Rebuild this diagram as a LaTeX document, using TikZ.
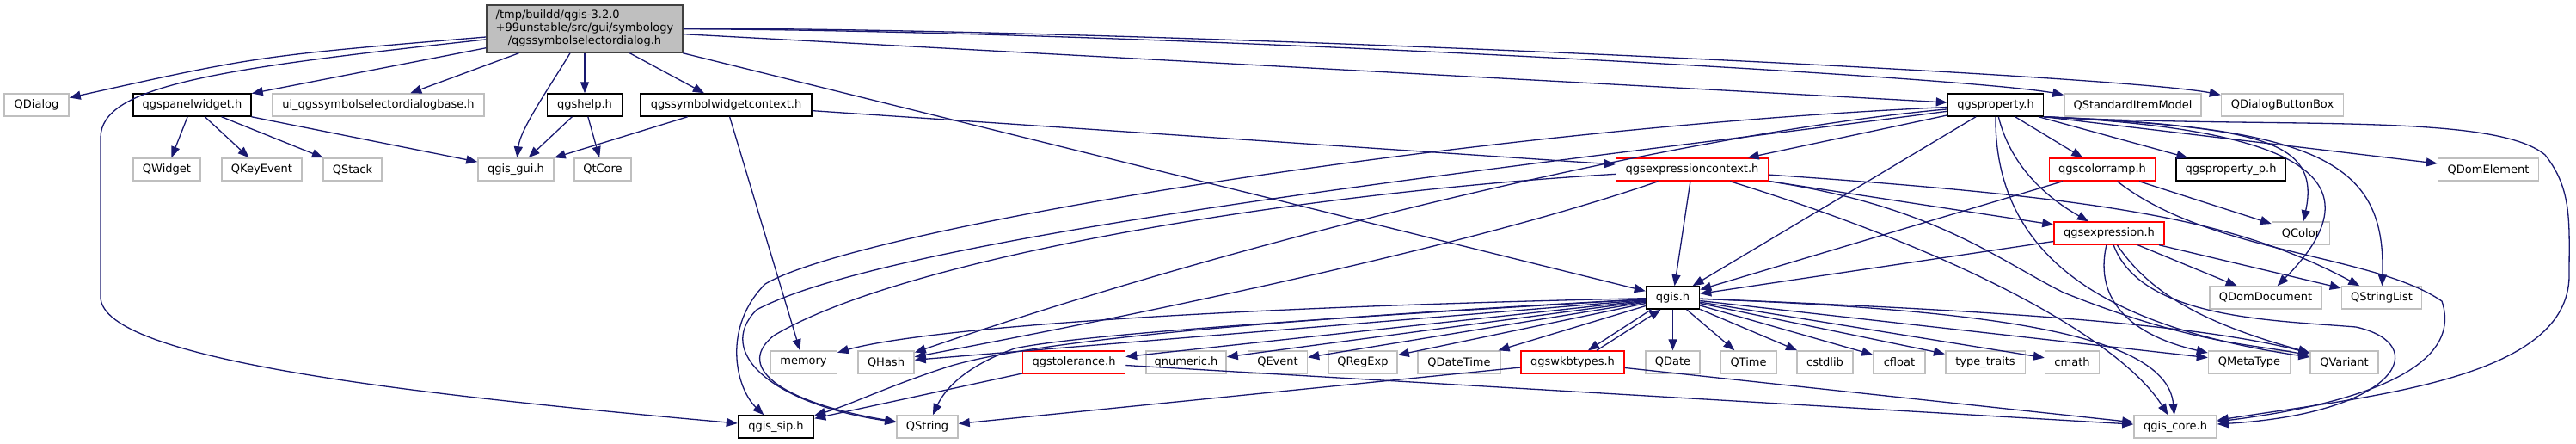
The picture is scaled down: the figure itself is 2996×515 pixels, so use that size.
\documentclass[tikz,border=0pt]{standalone}
\usepackage{fontspec}
\setmainfont{DejaVu Sans}
\usetikzlibrary{arrows.meta}
\definecolor{dxblue}{RGB}{25,25,112}
\definecolor{dxgray}{RGB}{191,191,191}
\definecolor{dxdark}{RGB}{64,64,64}
\definecolor{dxred}{RGB}{255,0,0}
\begin{document}
\begin{tikzpicture}[x=1pt,y=-1pt,
  box/.style={rectangle, inner sep=0pt, minimum height=26pt, line width=1.5pt, fill=white, font=\fontsize{13}{15}\selectfont},
  ext/.style={box, draw=dxgray},
  doc/.style={box, draw=black},
  trunc/.style={box, draw=dxred},
  dep/.style={draw=dxblue, line width=1.3pt, -{Triangle[length=13pt,width=10pt]}}]
\fill[white] (0,0) rectangle (2996,515);
\useasboundingbox (0,0) rectangle (2996,515);
% root
\node[box, draw=dxdark, fill=dxgray, minimum width=228pt, minimum height=55pt] (root) at (680,33.5)
  {\begin{tabular}{@{}l@{}}/tmp/buildd/qgis-3.2.0\\+99unstable/src/gui/symbology\\\multicolumn{1}{@{}c@{}}{/qgssymbolselectordialog.h}\end{tabular}};
% row 1
\node[ext, minimum width=75pt] (qdialog) at (42.5,122) {QDialog};
\node[doc, minimum width=137pt] (panel) at (223.5,122) {qgspanelwidget.h};
\node[ext, minimum width=246pt] (uibase) at (440,122) {ui\_qgssymbolselectordialogbase.h};
\node[doc, minimum width=87pt] (help) at (680,122) {qgshelp.h};
\node[doc, minimum width=199pt] (swctx) at (844.5,122) {qgssymbolwidgetcontext.h};
\node[doc, minimum width=111pt] (prop) at (2321,122) {qgsproperty.h};
\node[ext, minimum width=159pt] (qsim) at (2480.5,122) {QStandardItemModel};
\node[ext, minimum width=142pt] (qdbb) at (2654.5,122) {QDialogButtonBox};
% row 2
\node[ext, minimum width=78pt] (qwidget) at (194,197) {QWidget};
\node[ext, minimum width=93pt] (qkeyevent) at (304.5,197) {QKeyEvent};
\node[ext, minimum width=68pt] (qstack) at (410,197) {QStack};
\node[ext, minimum width=88pt] (gui) at (600,197) {qgis\_gui.h};
\node[ext, minimum width=66pt] (qtcore) at (701,197) {QtCore};
\node[trunc, minimum width=177pt] (expctx) at (1968,197) {qgsexpressioncontext.h};
\node[trunc, minimum width=123pt] (ramp) at (2445,197) {qgscolorramp.h};
\node[doc, minimum width=127pt] (propp) at (2594.5,197) {qgsproperty\_p.h};
\node[ext, minimum width=117pt] (qdomel) at (2894,197) {QDomElement};
% row 3
\node[trunc, minimum width=128pt] (expr) at (2453,271) {qgsexpression.h};
\node[ext, minimum width=67pt] (qcolor) at (2676,271) {QColor};
% row 4
\node[doc, minimum width=62pt] (qgis) at (1945.5,346) {qgis.h};
\node[ext, minimum width=130pt] (qdomdoc) at (2635,346) {QDomDocument};
\node[ext, minimum width=93pt] (qstrlist) at (2770,346) {QStringList};
% row 5
\node[ext, minimum width=77.5pt] (memory) at (934.5,421) {memory};
\node[ext, minimum width=65pt] (qhash) at (1030.5,421) {QHash};
\node[trunc, minimum width=119pt] (tol) at (1249,421) {qgstolerance.h};
\node[ext, minimum width=93pt] (qnumeric) at (1379.5,421) {qnumeric.h};
\node[ext, minimum width=69pt] (qevent) at (1486,421) {QEvent};
\node[ext, minimum width=80pt] (qregexp) at (1585,421) {QRegExp};
\node[ext, minimum width=96pt] (qdatetime) at (1697,421) {QDateTime};
\node[trunc, minimum width=120pt] (wkb) at (1829,421) {qgswkbtypes.h};
\node[ext, minimum width=63pt] (qdate) at (1945.5,421) {QDate};
\node[ext, minimum width=65pt] (qtime) at (2033.5,421) {QTime};
\node[ext, minimum width=65pt] (cstdlib) at (2122.5,421) {cstdlib};
\node[ext, minimum width=60pt] (cfloat) at (2209,421) {cfloat};
\node[ext, minimum width=92.5pt] (typetraits) at (2309,421) {type\_traits};
\node[ext, minimum width=63pt] (cmath) at (2410,421) {cmath};
\node[ext, minimum width=95pt] (qmetatype) at (2616,421) {QMetaType};
\node[ext, minimum width=79pt] (qvariant) at (2726.5,421) {QVariant};
% row 6
\node[doc, minimum width=88pt] (sip) at (902.5,496) {qgis\_sip.h};
\node[ext, minimum width=71pt] (qstring) at (1078.5,496) {QString};
\node[ext, minimum width=96pt] (core) at (2530,496) {qgis\_core.h};

% ---- edges from root
\draw[dep] (root) .. controls (300,65) .. (qdialog);
\draw[dep] (root) .. controls (250,80) and (117,100) .. (117,160) -- (117,345) .. controls (117,420) and (500,460) .. (sip);
\draw[dep] (root) -- (panel);
\draw[dep] (root) -- (uibase);
\draw[dep] (root) .. controls (640,100) and (605,150) .. (gui);
\draw[dep] (root) -- (help);
\draw[dep] (root) -- (swctx);
\draw[dep] (root) -- (qgis);
\draw[dep] (root) -- (prop);
\draw[dep] (root) .. controls (1300,35) and (2280,88) .. ([yshift=-2pt]qsim.north west);
\draw[dep] (root) .. controls (1300,32) and (2460,86) .. ([yshift=-2pt]qdbb.north west);
% ---- panel, help, symbol widget context
\draw[dep] (panel) -- (qwidget);
\draw[dep] (panel) -- (qkeyevent);
\draw[dep] (panel) -- (qstack);
\draw[dep] (panel) -- (gui);
\draw[dep] (help) -- (gui);
\draw[dep] (help) -- (qtcore);
\draw[dep] (swctx) -- (gui);
\draw[dep] (swctx) -- (memory);
\draw[dep] (swctx) -- (expctx);
% ---- qgsproperty.h
\draw[dep] (prop) -- (expctx);
\draw[dep] (prop) -- (qgis);
\draw[dep] (prop) -- (ramp);
\draw[dep] (prop) -- (propp);
\draw[dep] (prop.south east) -- (qdomel);
\draw[dep] (prop) .. controls (2340,200) and (2390,235) .. (expr);
\draw[dep] (prop.south east) .. controls (2620,148) and (2700,160) .. (qcolor);
\draw[dep] (prop.south east) .. controls (2680,150) and (2770,210) .. (qdomdoc);
\draw[dep] (prop.south east) .. controls (2700,148) and (2775,190) .. (qstrlist);
\draw[dep] (prop.south east) .. controls (2650,150) and (2900,130) .. (2960,180) .. controls (2992,220) and (2988,260) .. (2988,320) .. controls (2988,440) and (2760,460) .. (core);
\draw[dep] (prop) .. controls (2320,300) and (2450,380) .. (qvariant);
\draw[dep] (prop) .. controls (2000,150) and (1500,260) .. (qhash);
\draw[dep] (prop) .. controls (1700,150) and (1000,265) .. (890,330) .. controls (840,380) and (855,450) .. (sip);
\draw[dep] (prop) .. controls (1800,190) and (1050,270) .. (880,360) .. controls (830,410) and (900,470) .. (qstring);
% ---- qgsexpressioncontext.h
\draw[dep] (expctx) -- (qgis);
\draw[dep] (expctx) -- (expr);
\draw[dep] (expctx) .. controls (1700,290) and (1300,370) .. (qhash);
\draw[dep] (expctx) .. controls (1500,225) and (1050,300) .. (900,390) .. controls (850,430) and (920,470) .. (qstring);
\draw[dep] (expctx) .. controls (2450,230) and (2600,255) .. (qstrlist);
\draw[dep] (expctx) .. controls (2250,240) and (2320,300) .. (2400,340) .. controls (2550,400) and (2620,400) .. (qvariant);
\draw[dep] (expctx) .. controls (2300,300) and (2470,400) .. (core);
% ---- qgscolorramp.h
\draw[dep] (ramp) -- (qgis);
\draw[dep] (ramp) -- (qcolor);
\draw[dep] (ramp) .. controls (2570,295) and (2760,295) .. (2840,350) .. controls (2870,440) and (2700,475) .. (core);
% ---- qgsexpression.h
\draw[dep] (expr) -- (qgis);
\draw[dep] (expr) -- (qdomdoc);
\draw[dep] (expr) -- (qstrlist);
\draw[dep] (expr) .. controls (2435,350) and (2480,390) .. (qmetatype);
\draw[dep] (expr) .. controls (2500,340) and (2560,375) .. (qvariant);
\draw[dep] (expr) .. controls (2490,370) and (2640,372) .. (2740,380) .. controls (2830,400) and (2790,480) .. (core);
% ---- qgis.h
\draw[dep] (qgis) .. controls (1300,360) and (1050,388) .. (memory);
\draw[dep] (qgis) -- (qhash);
\draw[dep] (qgis) -- (tol);
\draw[dep] (qgis) -- (qnumeric);
\draw[dep] (qgis) -- (qevent);
\draw[dep] (qgis) -- (qregexp);
\draw[dep] (qgis) -- (qdatetime);
\draw[dep] ([xshift=-25pt]qgis.south) -- ([xshift=18pt]wkb.north);
\draw[dep] (qgis) -- (qdate);
\draw[dep] (qgis) -- (qtime);
\draw[dep] (qgis) -- (cstdlib);
\draw[dep] (qgis) -- (cfloat);
\draw[dep] (qgis) -- (typetraits);
\draw[dep] (qgis) -- (cmath);
\draw[dep] (qgis) -- (qmetatype);
\draw[dep] (qgis) .. controls (2300,360) and (2550,375) .. (qvariant);
\draw[dep] (qgis) .. controls (2300,360) and (2520,385) .. (core);
\draw[dep] (qgis) .. controls (1500,372) and (1250,390) .. (1180,405) .. controls (1125,425) and (1100,450) .. (qstring);
\draw[dep] (qgis) .. controls (1500,370) and (1200,395) .. (1100,427) .. controls (1030,450) and (990,470) .. (sip);
% ---- qgswkbtypes.h, qgstolerance.h
\draw[dep] ([xshift=28pt]wkb.north) -- ([xshift=-14pt]qgis.south);
\draw[dep] (wkb) -- (qstring);
\draw[dep] (wkb) -- (core);
\draw[dep] (tol) -- (sip);
\draw[dep] (tol) -- (core);
\end{tikzpicture}
\end{document}
